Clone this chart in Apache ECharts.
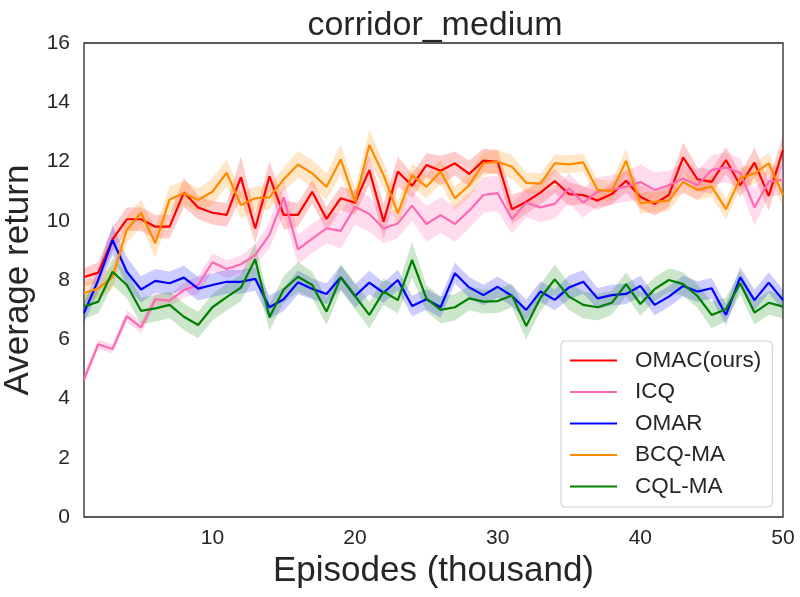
<!DOCTYPE html>
<html>
<head>
<meta charset="utf-8">
<script src="https://cdn.jsdelivr.net/npm/echarts@6/dist/echarts.min.js"></script>
<style>
  html, body { margin: 0; padding: 0; background: #fff; }
  #chart { width: 800px; height: 597px; }
</style>
</head>
<body>
<div id="chart"></div>
<script>
// episodes (thousand)
const episodes = [1,2,3,4,5,6,7,8,9,10,11,12,13,14,15,16,17,18,19,20,21,22,23,24,25,
  26,27,28,29,30,31,32,33,34,35,36,37,38,39,40,41,42,43,44,45,46,47,48,49,50];
const yTicks = [0, 2, 4, 6, 8, 10, 12, 14, 16];

// mean return per method
const omac = [8.1,8.25,9.37,10.05,10.05,9.8,9.8,10.95,10.45,10.27,10.2,11.47,9.74,11.5,10.2,10.2,10.98,10.06,10.76,10.61,
  11.71,9.97,11.66,11.18,11.88,11.69,11.94,11.58,12.03,11.99,10.39,10.64,10.95,11.34,10.9,10.87,10.68,10.9,11.35,10.81,
  10.57,10.87,12.14,11.4,11.31,12.05,11.2,11.96,10.84,12.39];
const icq = [4.65,5.83,5.67,6.78,6.4,7.35,7.3,7.66,7.83,8.6,8.37,8.53,8.84,9.52,10.79,9.03,9.4,9.74,9.66,10.47,
  10.23,9.74,9.91,10.51,9.89,10.19,9.89,10.34,10.87,10.93,10.06,10.61,10.45,10.57,11.1,10.61,10.98,11.04,11.15,11.31,
  11.04,11.2,11.43,11.2,11.71,11.8,11.62,10.45,11.32,11.38];
const omar = [6.88,8.0,9.35,8.28,7.68,7.97,7.89,8.08,7.71,7.83,7.94,7.94,8.04,7.08,7.35,7.92,7.7,7.53,8.09,7.46,
  7.91,7.57,8.0,7.12,7.35,7.08,8.23,7.75,7.49,7.77,7.46,6.99,7.61,7.33,7.75,7.94,7.38,7.49,7.53,7.8,
  7.16,7.44,7.8,7.61,7.72,6.82,8.09,7.32,7.91,7.32];
const bcqMa = [7.55,7.72,8.1,9.69,10.27,9.24,10.72,10.93,10.7,10.98,11.62,10.53,10.76,10.79,11.4,11.9,11.6,11.15,12.07,10.64,
  12.56,11.54,10.25,11.54,11.15,11.66,10.76,11.2,11.94,11.99,11.82,11.28,11.25,11.94,11.9,11.97,11.04,11.0,12.02,10.59,
  10.64,10.68,11.31,11.04,11.15,10.39,11.43,11.6,11.94,10.87];
const cqlMa = [7.1,7.27,8.28,7.83,6.96,7.04,7.16,6.76,6.48,7.08,7.42,7.74,8.7,6.74,7.68,8.11,7.83,6.93,8.09,7.46,
  6.82,7.61,7.32,8.68,7.38,6.99,7.08,7.38,7.27,7.29,7.48,6.45,7.4,8.02,7.44,7.16,7.08,7.23,7.86,7.19,
  7.69,8.0,7.86,7.46,6.82,7.01,7.89,6.9,7.23,7.1];

// half-width of the shaded band per method
const omacSpread = [0.3,0.35,0.4,0.4,0.4,0.4,0.4,0.5,0.4,0.4,0.4,0.7,0.5,0.5,0.5,0.4,0.4,0.4,0.4,0.4,
  0.5,0.6,0.5,0.4,0.4,0.5,0.4,0.45,0.4,0.4,0.5,0.4,0.4,0.4,0.4,0.3,0.3,0.35,0.4,0.4,
  0.4,0.4,0.5,0.4,0.4,0.45,0.4,0.5,0.5,0.5];
const icqSpread = [0.15,0.15,0.15,0.2,0.2,0.2,0.2,0.25,0.3,0.3,0.3,0.3,0.35,0.45,0.6,0.5,0.5,0.5,0.6,0.6,
  0.6,0.5,0.5,0.5,0.6,0.6,0.6,0.6,0.6,0.6,0.5,0.5,0.5,0.5,0.5,0.5,0.5,0.5,0.5,0.6,
  0.6,0.5,0.5,0.5,0.5,0.5,0.5,0.6,0.5,0.5];
const omarSpread = [0.35,0.4,0.5,0.5,0.45,0.4,0.4,0.4,0.4,0.4,0.4,0.4,0.4,0.4,0.4,0.4,0.35,0.35,0.4,0.4,
  0.4,0.35,0.35,0.35,0.35,0.35,0.35,0.35,0.35,0.35,0.35,0.35,0.35,0.35,0.4,0.4,0.35,0.35,0.35,0.35,
  0.35,0.35,0.35,0.35,0.35,0.35,0.35,0.35,0.35,0.35];
const bcqMaSpread = [0.35,0.35,0.4,0.45,0.45,0.5,0.45,0.4,0.4,0.45,0.45,0.45,0.4,0.4,0.4,0.45,0.45,0.45,0.5,0.45,
  0.5,0.45,0.4,0.4,0.4,0.4,0.4,0.4,0.4,0.4,0.4,0.35,0.35,0.3,0.3,0.3,0.35,0.35,0.4,0.35,
  0.35,0.35,0.35,0.35,0.35,0.35,0.35,0.35,0.35,0.4];
const cqlMaSpread = [0.4,0.4,0.45,0.45,0.45,0.45,0.45,0.45,0.45,0.45,0.45,0.45,0.55,0.45,0.45,0.5,0.45,0.45,0.45,0.45,
  0.45,0.45,0.45,0.6,0.45,0.45,0.45,0.4,0.4,0.4,0.4,0.45,0.45,0.5,0.45,0.45,0.45,0.4,0.4,0.4,
  0.4,0.4,0.4,0.4,0.45,0.4,0.4,0.4,0.4,0.4];

const methods = [
  { name: 'OMAC(ours)', mean: omac, spread: omacSpread, color: '#ff0000', band: 'rgba(255,0,0,0.2)' },
  { name: 'ICQ', mean: icq, spread: icqSpread, color: '#ff69b4', band: 'rgba(255,105,180,0.24)' },
  { name: 'OMAR', mean: omar, spread: omarSpread, color: '#0000ff', band: 'rgba(0,0,255,0.2)' },
  { name: 'BCQ-MA', mean: bcqMa, spread: bcqMaSpread, color: '#ff8c00', band: 'rgba(255,140,0,0.22)' },
  { name: 'CQL-MA', mean: cqlMa, spread: cqlMaSpread, color: '#008000', band: 'rgba(0,128,0,0.2)' }
];

const font = 'Liberation Sans';
const ink = '#262626';

const series = [];
methods.forEach((m, i) => {
  // invisible lower edge, then band stacked on it
  series.push({
    type: 'line', name: m.name + '_lo', stack: 'band' + i, silent: true,
    data: m.mean.map((v, k) => +(v - m.spread[k]).toFixed(3)),
    symbol: 'none', lineStyle: { opacity: 0 }, z: 1
  });
  series.push({
    type: 'line', name: m.name + '_hi', stack: 'band' + i, silent: true,
    data: m.spread.map(s => 2 * s),
    symbol: 'none', lineStyle: { opacity: 0 },
    areaStyle: { color: m.band, opacity: 1 }, z: 1
  });
});
methods.forEach(m => {
  series.push({
    type: 'line', name: m.name, data: m.mean,
    symbol: 'none', color: m.color,
    lineStyle: { color: m.color, width: 2.2 }, z: 3
  });
});

const chart = echarts.init(document.getElementById('chart'));
chart.setOption({
  backgroundColor: '#fff',
  animation: false,
  title: {
    text: 'corridor_medium', left: 430, top: 4, textAlign: 'center',
    textStyle: { fontFamily: font, fontSize: 34, fontWeight: 'normal', color: ink }
  },
  grid: {
    left: 84, right: 17, top: 43, bottom: 80,
    outerBoundsMode: 'none', containLabel: false,
    show: true, borderColor: ink, borderWidth: 1.3, backgroundColor: 'transparent'
  },
  legend: {
    data: methods.map(m => m.name),
    orient: 'vertical', left: 561, top: 341,
    icon: 'rect', itemWidth: 47, itemHeight: 2, itemGap: 8.5,
    padding: [8, 11, 9, 9],
    backgroundColor: 'rgba(255,255,255,0.85)',
    borderColor: '#cccccc', borderWidth: 1, borderRadius: 4,
    textStyle: { fontFamily: font, fontSize: 22.5, color: ink, lineHeight: 20.5, padding: [0, 0, 0, 13] }
  },
  xAxis: {
    type: 'category', data: episodes, boundaryGap: false,
    name: 'Episodes (thousand)', nameLocation: 'middle', nameGap: 37,
    nameTextStyle: { fontFamily: font, fontSize: 35, color: ink },
    axisLine: { show: false }, axisTick: { show: false }, splitLine: { show: false },
    axisLabel: {
      fontFamily: font, fontSize: 21, color: ink, margin: 11,
      interval: (idx, val) => Number(val) % 10 === 0
    }
  },
  yAxis: {
    type: 'value', min: yTicks[0], max: yTicks[yTicks.length - 1], interval: 2,
    name: 'Average return', nameLocation: 'middle', nameGap: 45,
    nameTextStyle: { fontFamily: font, fontSize: 35, color: ink },
    axisLine: { show: false }, axisTick: { show: false }, splitLine: { show: false },
    axisLabel: { fontFamily: font, fontSize: 21, color: ink, margin: 14 }
  },
  series: series
});
</script>
</body>
</html>
